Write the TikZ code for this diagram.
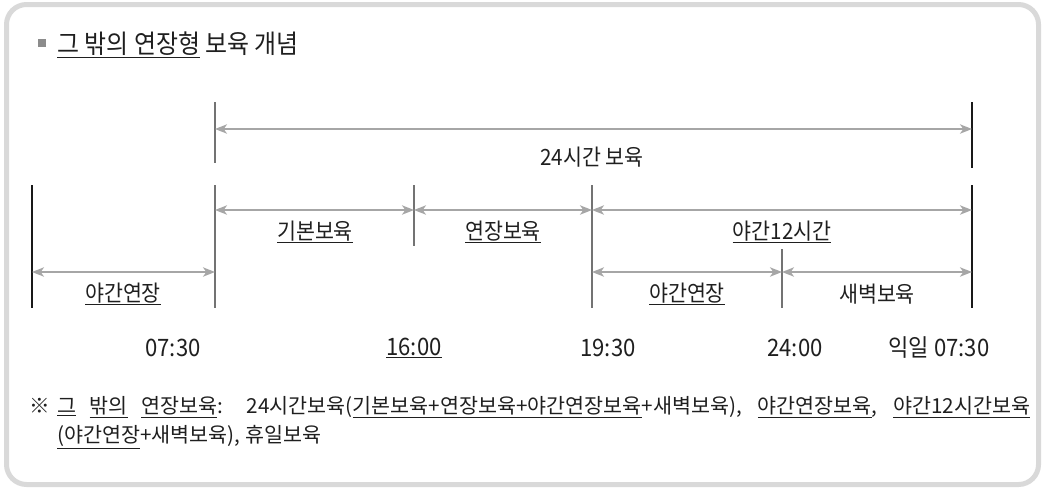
\documentclass[tikz,border=0pt]{standalone}
\usepackage{fontspec}
\setmainfont{Noto Sans CJK KR}[FakeStretch=0.92]
\newfontfamily\notefont{Noto Sans CJK KR}
\usetikzlibrary{arrows.meta}

\begin{document}
\begin{tikzpicture}[x=0.75pt, y=-0.75pt,
  frame/.style={draw=black!15, line width=3.75pt, rounded corners=15pt},
  dim/.style={draw=black!35, line width=1.3pt, {Stealth[length=9pt,width=7pt,inset=2.5pt]}-{Stealth[length=9pt,width=7pt,inset=2.5pt]}},
  tick/.style={draw=black!55, line width=1.1pt},
  edge/.style={draw=black!90, line width=1.1pt},
  lbl/.style={font=\fontsize{16.8}{20}\selectfont, text=black!88, inner sep=0pt},
  hour/.style={font=\fontsize{18}{21}\selectfont, text=black!88, inner sep=0pt}]
  \useasboundingbox (0,0) rectangle (1045,490);
  \draw[frame] (6.5,4.5) rectangle (1038.5,484.5);

  \node (mark) [fill=black!45, minimum size=6pt, inner sep=0pt] at (42,43) {};
  \node (title) [anchor=west, font=\fontsize{19.5}{22}\selectfont, text=black!88, inner sep=0pt] at (57,45) {\underline{그 밖의 연장형} 보육 개념};

  \draw[tick] (215,102) -- (215,163);
  \draw[edge] (972,102) -- (972,168);
  \draw[edge] (32,185) -- (32,308);
  \draw[tick] (215,185) -- (215,308);
  \draw[tick] (414,185) -- (414,246);
  \draw[tick] (592,185) -- (592,308);
  \draw[tick] (782,249) -- (782,308);
  \draw[edge] (972,185) -- (972,308);

  \coordinate (day) at (215,129);
  \coordinate (dayend) at (972,129);
  \coordinate (base) at (215,210);
  \coordinate (ext) at (414,210);
  \coordinate (night) at (592,210);
  \coordinate (nightend) at (972,210);
  \coordinate (early) at (32,272);
  \coordinate (earlyend) at (215,272);
  \coordinate (late) at (592,272);
  \coordinate (mid) at (782,272);
  \coordinate (dawnend) at (972,272);

  \draw[dim] (day) -- (dayend);
  \draw[dim] (base) -- (ext);
  \draw[dim] (ext) -- (night);
  \draw[dim] (night) -- (nightend);
  \draw[dim] (early) -- (earlyend);
  \draw[dim] (late) -- (mid);
  \draw[dim] (mid) -- (dawnend);

  \node (full) [lbl] at (592,157) {24시간 보육};
  \node (basic) [lbl] at (315,232) {\underline{기본보육}};
  \node (extend) [lbl] at (503,232) {\underline{연장보육}};
  \node (night12) [lbl] at (782,232) {\underline{야간12시간}};
  \node (morning) [lbl] at (123,294) {\underline{야간연장}};
  \node (evening) [lbl] at (687,294) {\underline{야간연장}};
  \node (dawn) [lbl] at (877,294) {새벽보육};

  \node (t0730) [hour] at (173,348) {07:30};
  \node (t1600) [hour] at (414,348) {\underline{16:00}};
  \node (t1930) [hour] at (608,348) {19:30};
  \node (t2400) [hour] at (795,348) {24:00};
  \node (tnext) [hour] at (939,348) {익일 07:30};

  \node (note) [anchor=north west, text width=729.75pt, align=justify, inner sep=0pt, text=black!88, font=\notefont\fontsize{15.5}{21.75}\selectfont] at (57,396) {\llap{※\hspace{5pt}}\underline{그} \underline{밖의} \underline{연장보육}: 24시간보육(\underline{기본보육+연장보육+야간연장보육}+새벽보육), \underline{야간연장보육}, \underline{야간12시간보육}\linebreak \underline{(야간연장}+새벽보육), 휴일보육};
\end{tikzpicture}
\end{document}
